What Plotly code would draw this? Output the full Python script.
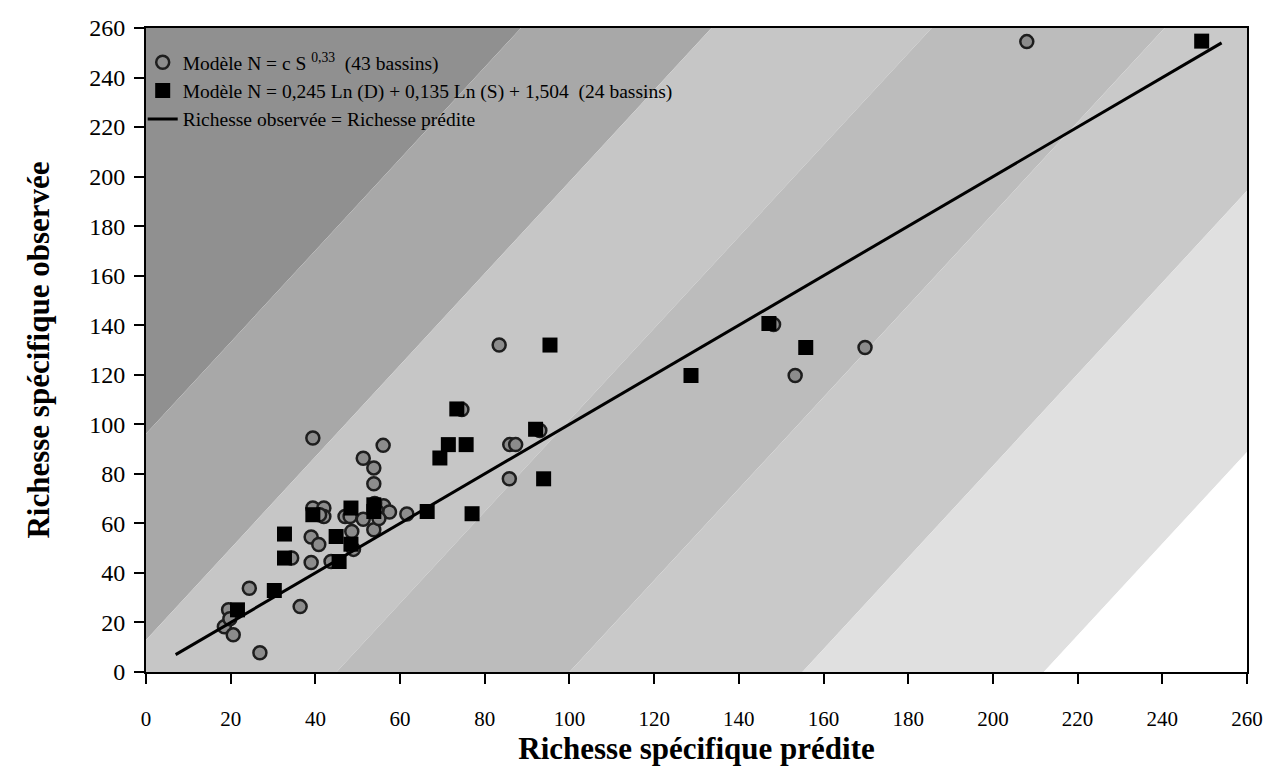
import plotly.graph_objects as go

# ---- data ----
circle_x = [208, 148.2, 153.3, 169.8, 83.4, 85.9, 87.3, 85.8, 74.6, 93.0,
            39.4, 56.0, 51.3, 53.8, 53.8, 39.4, 42.0, 42.0, 47.0, 48.2,
            51.3, 56.1, 57.5, 53.8, 61.6, 39.0, 40.8, 48.6, 34.4, 39.0,
            43.7, 24.4, 36.4, 19.5, 18.5, 20.6, 26.9, 49.0, 54.0, 54.5,
            19.8, 55.0, 41.0]
circle_y = [254.5, 140.3, 119.7, 131.0, 132.0, 91.8, 91.8, 78.0, 106.0, 97.5,
            94.5, 91.5, 86.3, 82.4, 76.0, 66.2, 66.2, 62.8, 62.8, 62.8,
            61.7, 67.1, 64.6, 57.4, 63.8, 54.5, 51.5, 56.7, 46.0, 44.2,
            44.6, 33.8, 26.4, 25.1, 18.3, 15.0, 7.8, 49.5, 68.0, 65.0,
            21.5, 62.0, 63.5]

square_x = [249.3, 147.1, 155.8, 128.7, 95.4, 92.0, 93.9, 77.0, 73.4, 71.4,
            75.6, 69.4, 66.4, 53.8, 53.8, 48.4, 39.4, 32.7, 44.9, 48.4,
            32.7, 45.6, 30.3, 21.6]
square_y = [254.7, 140.7, 131.0, 119.7, 132.0, 98.0, 78.0, 63.9, 106.2, 91.8,
            91.8, 86.4, 64.8, 67.5, 64.8, 66.2, 63.5, 55.7, 54.7, 51.6,
            46.0, 44.6, 32.9, 25.1]

line_x = [7, 254]
line_y = [7, 254]

tick_vals = list(range(0, 261, 20))
tick_text = [str(v) for v in tick_vals]

name_circles = "Modèle N = c S <sup>0,33</sup>\u00a0\u00a0(43 bassins)"
name_squares = "Modèle N = 0,245 Ln (D) + 0,135 Ln (S) + 1,504\u00a0\u00a0(24 bassins)"
name_line = "Richesse observée = Richesse prédite"

x_title = "Richesse spécifique prédite"
y_title = "Richesse spécifique observée"

# ---- background diagonal shading bands ----
BAND_SLOPE = 1.85
BAND_EDGES = [-52, -7, 45, 100, 155, 212]
BAND_COLORS = ["#909090", "#a8a8a8", "#c6c6c6", "#bcbcbc", "#c9c9c9", "#e0e0e0", "#ffffff"]


def clip(poly, f):
    out = []
    n = len(poly)
    for i in range(n):
        a = poly[i]
        b = poly[(i + 1) % n]
        fa, fb = f(a), f(b)
        if fa >= 0:
            out.append(a)
        if (fa >= 0) != (fb >= 0):
            t = fa / (fa - fb)
            out.append((a[0] + t * (b[0] - a[0]), a[1] + t * (b[1] - a[1])))
    return out


box = [(0, 0), (260, 0), (260, 260), (0, 260)]
edges = [-1e6] + BAND_EDGES + [1e6]
shapes = []
for i, col in enumerate(BAND_COLORS):
    lo, hi = edges[i], edges[i + 1]
    poly = clip(box, lambda p, lo=lo: (p[0] - p[1] / BAND_SLOPE) - lo)
    poly = clip(poly, lambda p, hi=hi: hi - (p[0] - p[1] / BAND_SLOPE))
    if len(poly) < 3:
        continue
    path = "M " + " L ".join(f"{x:.3f},{y:.3f}" for x, y in poly) + " Z"
    shapes.append(dict(type="path", path=path, xref="x", yref="y",
                       fillcolor=col, line=dict(width=0), layer="below"))

# white legend box
shapes.append(dict(type="rect", xref="paper", yref="paper",
                   x0=(156 - 146) / 1101, x1=(744 - 146) / 1101,
                   y0=1 - (130 - 28) / 644, y1=1 - (35 - 28) / 644,
                   fillcolor="white", line=dict(width=0), layer="below"))

FONT = "Liberation Serif"

fig = go.Figure()
fig.add_trace(go.Scatter(
    x=circle_x, y=circle_y, mode="markers", name=name_circles,
    marker=dict(symbol="circle", size=13, color="#8c8c8c",
                line=dict(width=2.5, color="#1e1e1e"))))
fig.add_trace(go.Scatter(
    x=square_x, y=square_y, mode="markers", name=name_squares,
    marker=dict(symbol="square", size=15, color="black", line=dict(width=0))))
fig.add_trace(go.Scatter(
    x=line_x, y=line_y, mode="lines", name=name_line,
    line=dict(color="black", width=3)))

axis_common = dict(
    range=[0, 260], tickvals=tick_vals, ticktext=tick_text,
    showline=True, linewidth=2, linecolor="black", mirror=True,
    ticks="outside", ticklen=10, tickwidth=2, tickcolor="black",
    showgrid=False, zeroline=False,
)

fig.update_layout(
    width=1279, height=770,
    margin=dict(l=146, r=32, t=28, b=98),
    paper_bgcolor="white", plot_bgcolor="white",
    font=dict(family=FONT, color="black"),
    shapes=shapes,
    showlegend=True,
    legend=dict(x=-0.003, y=1 - (43 - 28) / 644, xanchor="left", yanchor="top",
                bgcolor="rgba(0,0,0,0)", borderwidth=0,
                font=dict(family=FONT, size=19.5, color="black"),
                tracegroupgap=0),
    xaxis=dict(**axis_common,
               tickfont=dict(family=FONT, size=21),
               ticklabelstandoff=17,
               title=dict(text=x_title, font=dict(family=FONT, size=31, weight="bold"),
                          standoff=2)),
    yaxis=dict(**axis_common,
               tickfont=dict(family=FONT, size=24),
               ticklabelstandoff=4,
               title=dict(text=y_title, font=dict(family=FONT, size=31, weight="bold"),
                          standoff=30)),
)

fig.write_html("out.html")
